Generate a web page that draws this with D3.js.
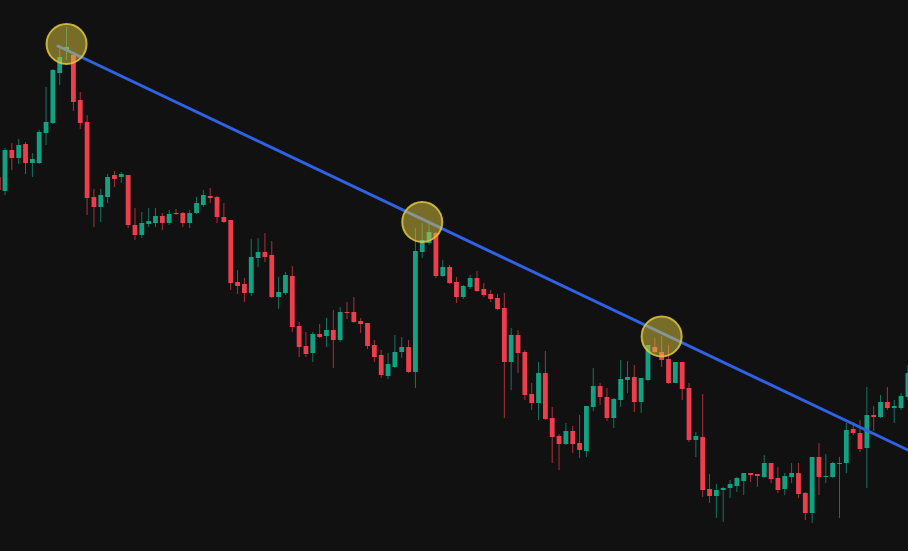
<!DOCTYPE html>
<html>
<head>
<meta charset="utf-8">
<script src="https://cdn.jsdelivr.net/npm/d3@7"></script>
<style>
  html, body { margin: 0; padding: 0; background: #111111; overflow: hidden; }
</style>
</head>
<body>
<svg id="chart"></svg>
<script>
// candle index (first one is cut off at the left edge)
const firstIdx = -1;

const opens = [42.3,40.9,45.0,44.2,45.6,43.7,43.7,46.7,47.7,52.7,55.0,54.5,50.0,47.8,40.3,39.3,40.3,42.5,42.3,42.5,
  37.5,36.5,37.6,37.7,38.4,37.7,38.7,38.7,37.7,38.7,39.5,40.4,40.3,38.3,38.0,31.8,31.6,30.7,34.2,34.8,
  34.5,30.3,30.7,32.4,27.4,25.4,24.7,26.6,26.4,27.0,26.0,28.8,28.8,27.9,27.7,25.5,24.5,22.4,23.3,24.8,
  25.3,22.8,34.8,35.7,36.7,32.4,33.3,31.8,30.3,31.3,32.2,31.1,30.6,30.2,29.2,23.8,26.5,24.8,20.6,19.7,
  22.7,18.2,16.4,15.6,16.9,15.7,14.9,19.3,21.4,20.3,18.2,20.0,22.0,22.3,19.8,22.0,25.3,24.8,24.1,21.7,
  23.8,21.2,16.0,16.3,11.1,10.4,11.0,11.2,11.4,11.9,12.7,12.6,12.3,13.7,12.2,11.1,12.3,12.7,10.7,8.7,
  14.3,12.3,12.3,13.6,13.7,17.1,16.7,15.2,18.5,18.3,19.8,19.2,19.2,20.3];

const highs = [42.5,45.2,45.7,46.1,45.8,44.7,47.0,51.3,53.1,55.2,57.3,54.7,50.8,48.5,41.1,41.1,42.6,42.9,42.8,42.5,
  39.2,38.8,39.2,39.2,38.7,39.0,39.1,38.8,39.0,40.3,41.0,41.2,40.4,39.7,38.0,33.0,32.2,36.1,36.2,36.7,
  35.9,32.3,32.8,33.4,27.8,26.8,26.8,27.6,28.2,29.0,29.3,29.8,30.3,28.2,27.7,26.0,25.0,24.7,26.5,26.3,
  26.0,37.2,37.7,38.0,36.8,34.0,33.5,32.3,31.5,32.5,32.9,31.7,31.0,30.6,30.7,27.2,27.0,25.0,21.7,23.8,
  24.9,19.3,16.6,17.7,17.4,18.5,19.4,23.2,21.7,21.2,20.2,24.0,23.9,23.5,22.2,25.5,26.2,26.4,25.5,23.8,
  23.8,21.7,16.8,20.6,12.6,11.6,11.3,12.0,12.3,12.7,12.7,12.6,14.5,13.7,13.3,12.7,13.7,13.7,10.8,14.3,
  15.7,14.6,13.8,14.3,17.7,17.8,18.0,21.3,19.4,20.5,21.3,20.0,20.7,23.5];

const lows = [40.8,40.5,43.0,43.6,42.6,42.3,43.6,45.5,47.6,51.5,54.0,48.9,47.1,38.5,37.3,37.8,39.7,41.3,41.7,37.2,
  36.0,36.2,37.3,37.3,37.0,37.5,38.5,37.3,37.2,38.6,39.3,39.7,37.7,37.7,31.0,30.6,29.8,30.4,33.3,33.8,
  30.2,29.1,30.5,26.8,24.3,24.3,23.8,26.2,25.3,23.2,25.8,28.1,27.7,26.7,25.1,23.8,22.2,22.1,23.2,24.2,
  22.7,21.2,34.2,35.5,32.2,32.3,31.6,29.7,30.1,31.1,30.8,30.3,29.8,29.0,18.2,21.0,22.7,20.0,19.0,18.0,
  18.0,13.7,13.0,15.5,14.7,14.2,14.3,18.9,19.5,17.9,17.2,19.3,20.7,18.8,18.7,21.9,24.7,23.3,21.6,21.7,
  20.0,15.8,14.3,10.3,9.7,8.2,7.8,10.2,10.8,10.5,11.8,11.3,12.2,11.7,10.7,10.5,11.7,10.2,8.0,7.7,
  10.5,11.7,12.2,8.2,12.7,16.5,14.8,11.2,16.9,18.2,19.0,17.7,19.0,20.0];

const closes = [41.0,45.0,44.2,45.5,43.7,44.1,46.8,47.8,53.0,54.3,55.3,49.8,47.7,40.2,39.3,40.5,42.3,42.1,42.6,37.5,
  36.5,37.7,37.9,38.4,37.7,38.6,38.6,37.7,38.7,39.7,40.5,40.2,38.3,37.8,31.7,31.4,30.7,34.3,34.8,34.3,
  30.3,30.8,32.5,27.3,25.3,24.6,26.6,26.3,27.0,26.0,28.8,28.7,27.8,27.6,25.4,24.3,22.5,23.6,24.8,25.3,
  22.8,34.9,36.0,36.8,32.4,33.3,31.7,30.3,31.4,32.2,30.9,30.5,30.1,29.1,23.8,26.5,24.7,20.5,19.7,22.7,
  18.1,16.3,15.6,16.9,15.6,15.0,19.4,21.4,20.3,18.2,20.1,22.1,22.3,19.8,22.2,25.5,24.8,24.0,21.7,23.8,
  21.1,16.0,16.4,11.0,10.4,11.0,11.2,11.6,12.2,12.7,12.5,12.4,13.7,12.1,11.0,12.4,12.7,10.6,8.7,14.3,
  12.3,12.4,13.7,13.7,17.0,16.7,15.1,18.5,18.3,19.8,19.2,19.4,20.4,22.7];

// trend line anchors (candle index, price)
const trendIdx = [7.75, 132];
const trendPrice = [55.4, 15.0];

// touch points marked with circles
const touchIdx = [9, 61, 96];
const touchPrice = [55.6, 37.8, 26.35];

const width = 908, height = 551;
const upColor = "#14a083", downColor = "#ee3d4d";

let candles = opens.map((o, k) => ({
  i: firstIdx + k, o: o, h: highs[k], l: lows[k], c: closes[k]
}));

let svg = d3.select("#chart")
  .attr("width", width)
  .attr("height", height);

svg.append("rect")
  .attr("width", width)
  .attr("height", height)
  .attr("fill", "#111111");

let x = d3.scaleLinear()
  .domain([-1, 132])
  .range([-1.84, 907.9]);

let y = d3.scaleLinear()
  .domain([0, 60])
  .range([600, 0]);

let bodyW = 4.8;

let g = svg.append("g").attr("id", "candles");

let cg = g.selectAll("g")
  .data(candles)
  .enter()
  .append("g");

// wicks
cg.append("line")
  .attr("x1", d => x(d.i))
  .attr("x2", d => x(d.i))
  .attr("y1", d => y(d.h))
  .attr("y2", d => y(d.l))
  .attr("stroke", d => d.c >= d.o ? upColor : downColor)
  .attr("stroke-opacity", 0.7)
  .attr("stroke-width", 1);

// bodies
cg.append("rect")
  .attr("x", d => x(d.i) - bodyW / 2)
  .attr("y", d => y(Math.max(d.o, d.c)))
  .attr("width", bodyW)
  .attr("height", d => Math.max(1, Math.abs(y(d.o) - y(d.c))))
  .attr("fill", d => d.c >= d.o ? upColor : downColor);

// trend line
svg.append("line")
  .attr("x1", x(trendIdx[0]))
  .attr("y1", y(trendPrice[0]))
  .attr("x2", x(trendIdx[1]))
  .attr("y2", y(trendPrice[1]))
  .attr("stroke", "#2f62e6")
  .attr("stroke-width", 3)
  .attr("stroke-linecap", "round");

// touch circles
svg.append("g")
  .attr("id", "touches")
  .selectAll("circle")
  .data(touchIdx.map((t, k) => ({ i: t, p: touchPrice[k] })))
  .enter()
  .append("circle")
  .attr("cx", d => x(d.i))
  .attr("cy", d => y(d.p))
  .attr("r", 20)
  .attr("fill", "rgba(222,200,64,0.5)")
  .attr("stroke", "rgba(222,200,64,0.85)")
  .attr("stroke-width", 2);
</script>
</body>
</html>
